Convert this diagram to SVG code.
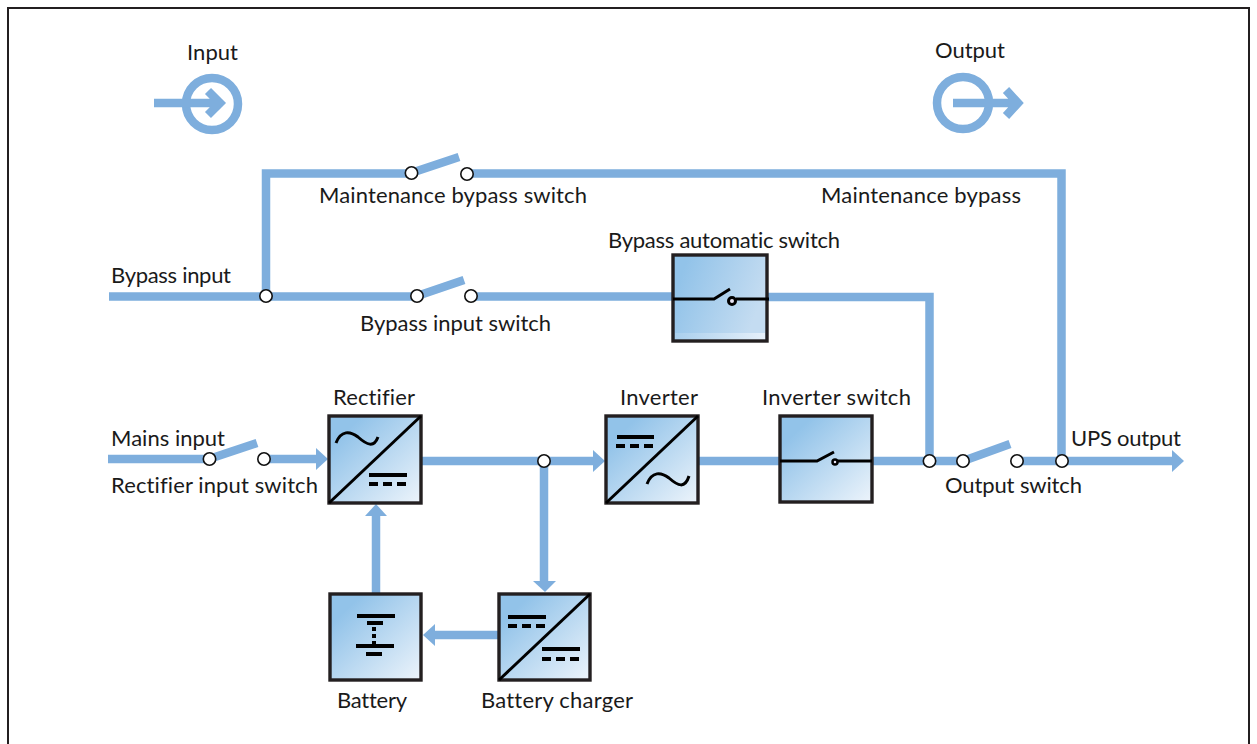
<svg xmlns="http://www.w3.org/2000/svg" width="1257" height="744" viewBox="0 0 1257 744">
<style>
.t{font-family:"Lato","Liberation Sans",sans-serif;font-size:22px;fill:#1a1a1a;font-variant-ligatures:none}
.w{fill:none;stroke:#7eaedd;stroke-width:8.5}
.h{fill:#7eaedd}
.j{fill:#fff;stroke:#111;stroke-width:1.6}
.b{fill:url(#g);stroke:#231f20;stroke-width:3.4}
.k{fill:none;stroke:#000;stroke-width:3}
.d{fill:none;stroke:#000;stroke-width:4}
.f{fill:none;stroke:#000;stroke-width:4;stroke-dasharray:9 5}
</style>
<defs>
<linearGradient id="g" x1="0" y1="0" x2="1" y2="1">
<stop offset="0.18" stop-color="#92c3e9"/>
<stop offset="1" stop-color="#edf4fb"/>
</linearGradient>
<linearGradient id="g2" x1="0" y1="0" x2="1" y2="0.35">
<stop offset="0.15" stop-color="#92c3e9"/>
<stop offset="1" stop-color="#c4dcf1"/>
</linearGradient>
<linearGradient id="g3" x1="0" y1="0" x2="1" y2="0">
<stop offset="0" stop-color="#a9cfed"/>
<stop offset="1" stop-color="#e6f0fa"/>
</linearGradient>
</defs>
<rect x="8" y="8" width="1241" height="745" fill="#fff" stroke="#231f20" stroke-width="2"/>
<g id="connectors">
<path class="w" d="M109 296.5H417M471 296.5H672M768 297H929.5V461"/>
<path class="w" d="M266 296V173.5H411M467 173.5H1061.5V461"/>
<path class="w" d="M411 173L459 157M417 296L464 280M209 459L257 443M963 461L1010 444"/>
<path class="w" d="M108 459H209M264 459H316"/><path class="h" d="M316 448L328 459L316 470Z"/>
<path class="w" d="M421 461H593"/><path class="h" d="M593 450L605 461L593 472Z"/>
<path class="w" d="M698 461H780M872 461H963M1017 461H1172"/><path class="h" d="M1172 450L1184 461L1172 472Z"/>
<path class="w" d="M544 461V581"/><path class="h" d="M533 581L545 592L556 581Z"/>
<path class="w" d="M498 635H435"/><path class="h" d="M435 624L423 635L435 646Z"/>
<path class="w" d="M376 593V516"/><path class="h" d="M365 516L376 504L387 516Z"/>
<g id="junctions">
<circle class="j" cx="411.500" cy="173" r="6.200"/><circle class="j" cx="467" cy="174" r="6.200"/>
<circle class="j" cx="266" cy="296" r="6.200"/><circle class="j" cx="417" cy="296" r="6.200"/><circle class="j" cx="471" cy="296" r="6.200"/>
<circle class="j" cx="209.500" cy="459" r="6.200"/><circle class="j" cx="264" cy="459" r="6.200"/>
<circle class="j" cx="544" cy="461" r="6.200"/>
<circle class="j" cx="929.500" cy="461" r="6.200"/><circle class="j" cx="963" cy="461" r="6.200"/><circle class="j" cx="1017" cy="461" r="6.200"/><circle class="j" cx="1062" cy="461" r="6.200"/>
</g>
</g>
<g id="input-legend">
<circle cx="212" cy="104" r="26" class="w"/>
<path class="w" d="M154 103H220M208 91L220 103L208 115"/>
<text class="t" x="187" y="60" textLength="51" lengthAdjust="spacing">Input</text>
</g>
<g id="output-legend">
<circle cx="963" cy="103" r="26" class="w"/>
<path class="w" d="M953 103H1016M1006 90L1018 103L1006 116"/>
<text class="t" x="935" y="58" textLength="70" lengthAdjust="spacing">Output</text>
</g>
<g id="maintenance-bypass-switch"><text class="t" x="319" y="203" textLength="268" lengthAdjust="spacing">Maintenance bypass switch</text></g>
<g id="maintenance-bypass"><text class="t" x="821" y="203" textLength="200" lengthAdjust="spacing">Maintenance bypass</text></g>
<g id="bypass-input"><text class="t" x="111" y="283" textLength="120" lengthAdjust="spacing">Bypass input</text></g>
<g id="bypass-input-switch"><text class="t" x="360" y="331" textLength="191" lengthAdjust="spacing">Bypass input switch</text></g>
<g id="mains-input"><text class="t" x="111" y="446" textLength="114" lengthAdjust="spacing">Mains input</text></g>
<g id="rectifier-input-switch"><text class="t" x="111" y="493" textLength="207" lengthAdjust="spacing">Rectifier input switch</text></g>
<g id="ups-output"><text class="t" x="1071" y="446" textLength="110" lengthAdjust="spacing">UPS output</text></g>
<g id="output-switch"><text class="t" x="945" y="493" textLength="137" lengthAdjust="spacing">Output switch</text></g>
<g id="bypass-automatic-switch">
<rect x="673" y="255" width="94" height="86" fill="url(#g2)"/>
<rect x="675" y="333" width="90" height="7" fill="url(#g3)"/>
<rect x="673" y="255" width="94" height="86" fill="none" stroke="#231f20" stroke-width="3.400"/>
<path class="k" d="M673 299H714L730 289"/><path class="k" d="M736 299H769"/>
<circle cx="732" cy="301" r="3.500" fill="#e8e4f4" stroke="#000" stroke-width="3"/>
<text class="t" x="608" y="248" textLength="232" lengthAdjust="spacing">Bypass automatic switch</text>
</g>
<g id="rectifier">
<rect class="b" x="329" y="416" width="92" height="87"/>
<path class="k" d="M329 503L421 416"/>
<path class="k" d="M336 443C341 430 350 431 358 437C367 445 374 448 378 437"/>
<path class="d" d="M369 475H407"/><path class="f" d="M369 484H407"/>
<text class="t" x="333" y="405" textLength="82" lengthAdjust="spacing">Rectifier</text>
</g>
<g id="inverter">
<rect class="b" x="606" y="416" width="92" height="87"/>
<path class="k" d="M606 503L698 416"/>
<path class="d" d="M617 437H654"/><path class="f" d="M616 446H654"/>
<path class="k" d="M647 484C652 471 661 472 669 478C678 486 685 489 689 476"/>
<text class="t" x="620" y="405" textLength="78" lengthAdjust="spacing">Inverter</text>
</g>
<g id="inverter-switch">
<rect class="b" x="780" y="416" width="92" height="86"/>
<path class="k" d="M780 461H817L834 452"/><path class="k" d="M838 461H872"/>
<circle cx="835" cy="462" r="2.500" fill="#e8e4f4" stroke="#000" stroke-width="2.500"/>
<text class="t" x="762" y="405" textLength="149" lengthAdjust="spacing">Inverter switch</text>
</g>
<g id="battery">
<rect class="b" x="330" y="594" width="91" height="86"/>
<path class="d" d="M357 616H395"/><path d="M367 623H383" class="d"/>
<path d="M374 627V644" stroke="#000" stroke-width="4" stroke-dasharray="4 3" fill="none"/>
<path class="d" d="M356 646H394"/><path class="d" d="M366 654H382"/>
<text class="t" x="337" y="708" textLength="70" lengthAdjust="spacing">Battery</text>
</g>
<g id="battery-charger">
<rect class="b" x="499" y="594" width="91" height="86"/>
<path class="k" d="M499 680L590 594"/>
<path class="d" d="M508 617H546"/><path class="f" d="M508 626H546"/>
<path class="d" d="M542 649H580"/><path class="f" d="M542 659H580"/>
<text class="t" x="481" y="708" textLength="152" lengthAdjust="spacing">Battery charger</text>
</g>
</svg>
